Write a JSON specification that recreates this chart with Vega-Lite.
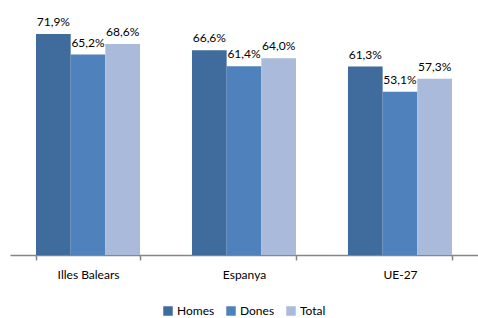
{
  "$schema": "https://vega.github.io/schema/vega-lite/v6.json",
  "width": 468,
  "height": 246,
  "autosize": {"type": "none"},
  "padding": {"left": 10, "top": 9, "right": 0, "bottom": 63},
  "background": "white",
  "config": {
    "view": {"stroke": null},
    "font": "Lato",
    "legend": {"layout": {"bottom": {"anchor": "middle"}}},
    "locale": {"number": {"decimal": ",", "thousands": ".", "grouping": [3], "currency": ["", " €"]}}
  },
  "data": {
    "values": [
      {"regio": "Illes Balears", "sexe": "Homes", "valor": 0.719},
      {"regio": "Illes Balears", "sexe": "Dones", "valor": 0.652},
      {"regio": "Illes Balears", "sexe": "Total", "valor": 0.686},
      {"regio": "Espanya", "sexe": "Homes", "valor": 0.666},
      {"regio": "Espanya", "sexe": "Dones", "valor": 0.614},
      {"regio": "Espanya", "sexe": "Total", "valor": 0.640},
      {"regio": "UE-27", "sexe": "Homes", "valor": 0.613},
      {"regio": "UE-27", "sexe": "Dones", "valor": 0.531},
      {"regio": "UE-27", "sexe": "Total", "valor": 0.573}
    ]
  },
  "encoding": {
    "x": {
      "field": "regio", "type": "nominal", "sort": null,
      "scale": {"paddingInner": 0.333, "paddingOuter": 0.1667},
      "axis": {
        "title": null, "labelAngle": 0, "tickBand": "extent",
        "domainColor": "#868686", "tickColor": "#868686", "tickSize": 5,
        "domainWidth": 1.5, "tickWidth": 1.5,
        "labelFontSize": 12, "labelColor": "#000000", "labelPadding": 9
      }
    },
    "xOffset": {"field": "sexe", "type": "nominal", "sort": ["Homes", "Dones", "Total"]},
    "y": {
      "field": "valor", "type": "quantitative",
      "scale": {"domain": [0, 0.8]},
      "axis": null
    }
  },
  "layer": [
    {
      "mark": {"type": "bar"},
      "encoding": {
        "color": {
          "field": "sexe", "type": "nominal",
          "sort": ["Homes", "Dones", "Total"],
          "scale": {"domain": ["Homes", "Dones", "Total"], "range": ["#3F6B9D", "#4F81BD", "#A9BADA"]},
          "legend": {
            "title": null, "orient": "bottom", "direction": "horizontal",
            "symbolType": "square", "symbolSize": 90, "symbolStrokeWidth": 0,
            "labelFontSize": 12, "labelColor": "#000000", "offset": 25,
            "columnPadding": 10, "labelOffset": 3
          }
        }
      }
    },
    {
      "mark": {"type": "text", "baseline": "bottom", "dy": -5, "fontSize": 12, "color": "#000000"},
      "encoding": {
        "text": {"field": "valor", "type": "quantitative", "format": ".1%"}
      }
    }
  ]
}
